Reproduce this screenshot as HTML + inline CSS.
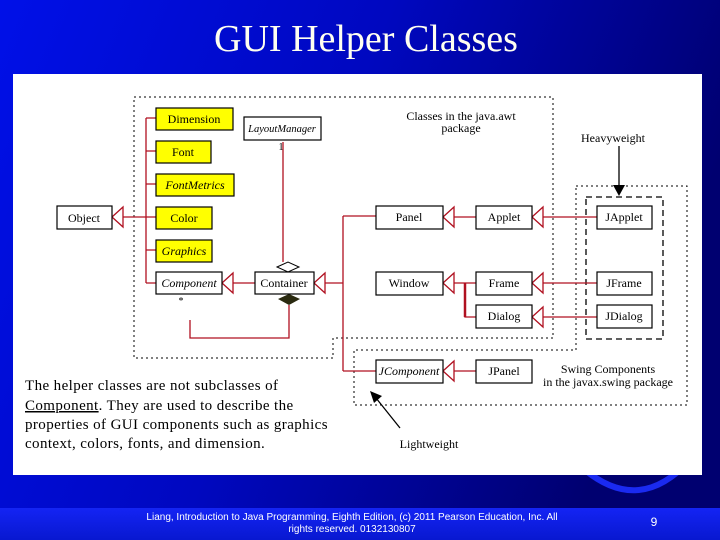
<!DOCTYPE html>
<html><head><meta charset="utf-8"><style>
html,body{margin:0;padding:0;width:720px;height:540px;overflow:hidden;background:#00008c}
svg{display:block}
</style></head><body>
<svg width="720" height="540" xmlns="http://www.w3.org/2000/svg" font-family="Liberation Serif, serif">
<defs>
<linearGradient id="bg" x1="0" y1="0" x2="1" y2="0.3">
<stop offset="0" stop-color="#0010e8"/><stop offset="0.5" stop-color="#0008c0"/><stop offset="1" stop-color="#000070"/>
</linearGradient>
<linearGradient id="ft" x1="0" y1="0" x2="0" y2="1">
<stop offset="0" stop-color="#1424f4"/><stop offset="1" stop-color="#0818d0"/>
</linearGradient>
</defs>
<rect width="720" height="540" fill="url(#bg)"/>
<path d="M585 470 Q640 515 690 460" stroke="#1a2af0" stroke-width="6" fill="none"/>
<rect x="0" y="508" width="720" height="32" fill="url(#ft)"/>
<text x="366" y="51" font-size="38" fill="#fffff0" text-anchor="middle">GUI Helper Classes</text>
<rect x="13" y="74" width="689" height="401" fill="#fff"/>

<path d="M134 97 H553 V338 H333 V358 H134 Z" fill="none" stroke="#000" stroke-width="1" stroke-dasharray="2,3"/>
<path d="M576 186 H687 V405 H354 V350 H576 Z" fill="none" stroke="#000" stroke-width="1" stroke-dasharray="2,3"/>
<rect x="586" y="197" width="77" height="142" fill="none" stroke="#000" stroke-width="1.3" stroke-dasharray="6,4"/>

<g font-size="12" text-anchor="middle" fill="#000">
<text x="461" y="120">Classes in the java.awt</text>
<text x="461" y="132">package</text>
<text x="613" y="142">Heavyweight</text>
<text x="608" y="373">Swing Components</text>
<text x="608" y="386">in the javax.swing package</text>
<text x="429" y="448">Lightweight</text>
</g>

<g stroke="#b01020" stroke-width="1.3" fill="none">
<path d="M146 118 V283 M146 118 H156 M146 151 H156 M146 184 H156 M146 217 H156 M146 250 H156 M146 283 H156"/>
<path d="M123 217 H146"/>
<path d="M283 142 V262"/>
<path d="M233 283 H255"/>
<path d="M325 283 H343 M343 216 V371 M343 216 H376 M343 371 H376"/>
<path d="M453 217 H476 M543 217 H597"/>
<path d="M453 283 H476 M465 283 V317 H476 M543 283 H597 M543 317 H597"/>
<path d="M453 371 H476"/>
<path d="M289 305 V338 H190 V320"/>
<path d="M112 217 L123 207 L123 227 Z" fill="#fff"/>
<path d="M222 283 L233 273 L233 293 Z" fill="#fff"/>
<path d="M314 283 L325 273 L325 293 Z" fill="#fff"/>
<path d="M443 217 L454 207 L454 227 Z" fill="#fff"/>
<path d="M532 217 L543 207 L543 227 Z" fill="#fff"/>
<path d="M443 283 L454 273 L454 293 Z" fill="#fff"/>
<path d="M532 283 L543 273 L543 293 Z" fill="#fff"/>
<path d="M532 317 L543 307 L543 327 Z" fill="#fff"/>
<path d="M443 371 L454 361 L454 381 Z" fill="#fff"/>
</g>
<path d="M465 283 V317" stroke="#b01020" stroke-width="2.5"/>
<path d="M277 267 L288 262 L299 267 L288 272 Z" fill="#fff" stroke="#000"/>
<path d="M278 299 L289 294 L300 299 L289 305 Z" fill="#2a2a10"/>

<g stroke="#000" stroke-width="1.2">
<rect x="57" y="206" width="55" height="23" fill="#fff"/>
<rect x="156" y="108" width="77" height="22" fill="#ffff00"/>
<rect x="156" y="141" width="55" height="22" fill="#ffff00"/>
<rect x="156" y="174" width="78" height="22" fill="#ffff00"/>
<rect x="156" y="207" width="56" height="22" fill="#ffff00"/>
<rect x="156" y="240" width="56" height="22" fill="#ffff00"/>
<rect x="156" y="272" width="66" height="22" fill="#fff"/>
<rect x="244" y="117" width="77" height="23" fill="#fff"/>
<rect x="255" y="272" width="59" height="22" fill="#fff"/>
<rect x="376" y="206" width="67" height="23" fill="#fff"/>
<rect x="476" y="206" width="56" height="23" fill="#fff"/>
<rect x="597" y="206" width="55" height="23" fill="#fff"/>
<rect x="376" y="272" width="67" height="23" fill="#fff"/>
<rect x="476" y="272" width="56" height="23" fill="#fff"/>
<rect x="597" y="272" width="55" height="23" fill="#fff"/>
<rect x="476" y="305" width="56" height="23" fill="#fff"/>
<rect x="597" y="305" width="55" height="23" fill="#fff"/>
<rect x="376" y="360" width="67" height="23" fill="#fff"/>
<rect x="476" y="360" width="56" height="23" fill="#fff"/>
</g>
<g font-size="12" text-anchor="middle" fill="#000">
<text x="84" y="222">Object</text>
<text x="194" y="123">Dimension</text>
<text x="183" y="156">Font</text>
<text x="195" y="189" font-style="italic">FontMetrics</text>
<text x="184" y="222">Color</text>
<text x="184" y="255" font-style="italic">Graphics</text>
<text x="189" y="287" font-style="italic">Component</text>
<text x="282" y="132" font-style="italic" font-size="10.5">LayoutManager</text>
<text x="284" y="287">Container</text>
<text x="409" y="221">Panel</text>
<text x="504" y="221">Applet</text>
<text x="624" y="221">JApplet</text>
<text x="409" y="287">Window</text>
<text x="504" y="287">Frame</text>
<text x="624" y="287">JFrame</text>
<text x="504" y="320">Dialog</text>
<text x="624" y="320">JDialog</text>
<text x="409" y="375" font-style="italic">JComponent</text>
<text x="504" y="375">JPanel</text>
<text x="281" y="150" font-size="10">1</text>
<text x="181" y="304" font-size="10">*</text>
</g>

<path d="M619 146 V186" stroke="#000" stroke-width="1.3"/>
<path d="M613 185 L625 185 L619 196 Z" fill="#000"/>
<path d="M400 428 L376 398" stroke="#000" stroke-width="1.3"/>
<path d="M370 391 L382 396 L374 403 Z" fill="#000"/>

<g font-size="15" fill="#000" letter-spacing="0.4">
<text x="25" y="390">The helper classes are not subclasses of</text>
<text x="25" y="410"><tspan text-decoration="underline">Component</tspan>. They are used to describe the</text>
<text x="25" y="429">properties of GUI components such as graphics</text>
<text x="25" y="448">context, colors, fonts, and dimension.</text>
</g>

<g font-family="Liberation Sans, sans-serif" font-size="10" fill="#fff" text-anchor="middle">
<text x="352" y="520">Liang, Introduction to Java Programming, Eighth Edition, (c) 2011 Pearson Education, Inc. All</text>
<text x="352" y="532">rights reserved. 0132130807</text>
<text x="654" y="526" font-size="12">9</text>
</g>
</svg>
</body></html>
